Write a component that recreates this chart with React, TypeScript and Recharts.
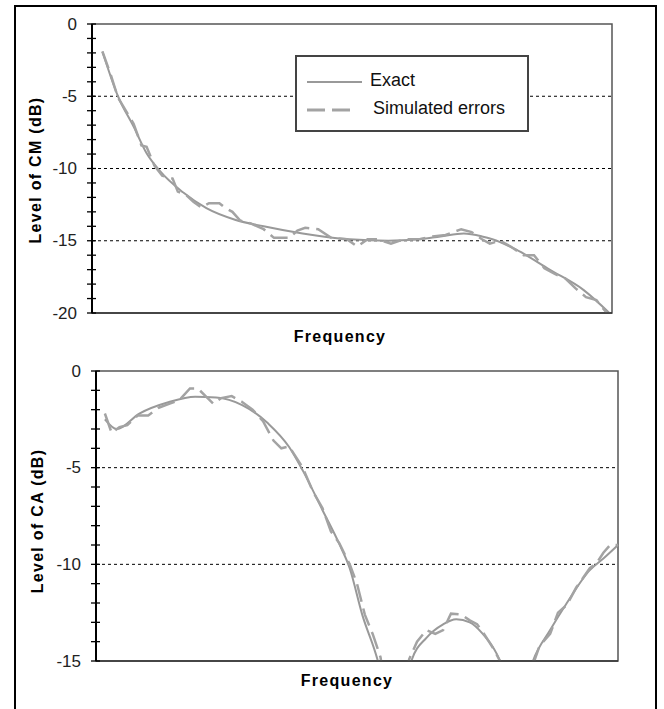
import { LineChart, Line, XAxis, YAxis, ReferenceLine, ReferenceArea, Legend } from 'recharts';

const FONT = '"Liberation Sans", Arial, sans-serif';

// top panel: level of CM (dB) vs frequency
const cmExactFreq = [2, 5, 8, 10.5, 13, 17.5, 22, 27.5, 33, 40.5, 49.5, 57, 62.5, 67, 71.5, 75, 77, 81.5, 88, 94.5, 99.5];
const cmExactLevel = [-1.9, -5.0, -7.1, -8.95, -10.15, -11.65, -12.75, -13.55, -14.0, -14.5, -14.9, -15.0, -14.9, -14.7, -14.5, -14.7, -14.9, -15.6, -17.0, -18.4, -20.0];
const cmSimFreq = [2, 3.5, 5, 6.5, 8, 9.5, 10.5, 12, 13.5, 15.5, 16.5, 18, 19.5, 21, 22.5, 24.5, 25.5, 27, 28.5, 30.5, 33, 35, 38, 39.5, 41, 43.5, 46, 49, 51, 53, 55, 57.5, 60, 63, 65.5, 68, 71, 73, 75, 76.5, 78.5, 80.5, 83, 85, 87, 89, 91, 93, 95, 97, 99];
const cmSimLevel = [-1.9, -3.4, -5.1, -6.0, -6.9, -8.4, -8.5, -9.8, -10.5, -10.7, -11.6, -11.8, -12.3, -12.7, -12.4, -12.4, -12.7, -13.0, -13.6, -13.8, -14.2, -14.8, -14.8, -14.3, -14.1, -14.2, -14.8, -14.9, -15.4, -14.9, -14.9, -15.2, -14.9, -14.9, -14.7, -14.6, -14.2, -14.4, -14.9, -15.2, -15.0, -15.4, -16.0, -16.0, -16.9, -17.3, -17.6, -18.3, -18.9, -19.1, -20.0];
const cmTicks = [0, -1, -2, -3, -4, -5, -6, -7, -8, -9, -10, -11, -12, -13, -14, -15, -16, -17, -18, -19, -20];
const cmGrid = [-5, -10, -15];

// bottom panel: level of CA (dB) vs frequency
const caExactFreq = [1.7, 4, 8.3, 14, 19, 23, 28, 33, 37, 39.6, 43.4, 46.6, 48.6, 51, 54, 57.2, 60.4, 63.3, 66.5, 69, 71.6, 74.1, 77.4, 80.6, 83.7, 87, 90.2, 94.6, 97.2, 100];
const caExactLevel = [-2.5, -3.0, -2.2, -1.6, -1.33, -1.37, -1.76, -2.72, -3.93, -5.14, -7.2, -8.94, -10.2, -12.6, -15, -19, -15, -13.8, -13.1, -12.84, -13.0, -13.6, -15, -18, -15, -13.4, -12.0, -10.3, -9.7, -9.0];
const caSimFreq = [1.7, 3, 4.5, 6, 8, 10, 12, 14, 16, 18, 19.5, 21, 22.5, 24, 26, 28, 30, 32, 34, 35.5, 37, 39.6, 41.5, 43.4, 45, 46.6, 48.6, 50, 51.5, 53, 54.5, 57, 60, 61.5, 63.3, 65, 66.5, 68, 70, 71.6, 73, 74.1, 76, 77.4, 80.6, 83.7, 85, 87, 88.5, 90.2, 92, 94.6, 96, 97.2, 98.5, 100];
const caSimLevel = [-2.2, -3.2, -2.9, -2.8, -2.3, -2.3, -1.9, -1.7, -1.5, -0.9, -0.9, -1.3, -1.7, -1.4, -1.3, -1.6, -2.0, -2.6, -3.6, -4.0, -3.9, -5.0, -6.2, -7.1, -8.3, -8.9, -10.0, -11.0, -12.6, -13.6, -14.8, -19, -14.9, -14.0, -13.4, -13.6, -13.4, -12.55, -12.6, -12.9, -13.1, -13.5, -14.3, -15, -18, -15.2, -14.2, -13.6, -12.5, -12.1, -11.2, -10.2, -9.9, -9.4, -9.0, -9.0];
const caTicks = [0, -1, -2, -3, -4, -5, -6, -7, -8, -9, -10, -11, -12, -13, -14, -15];
const caGrid = [-5, -10];

const toRows = (f: number[], v: number[]) => f.map((x, i) => ({ f: x, v: v[i] }));

const EXACT = { name: 'Exact', color: '#999', width: 2, dash: undefined as string | undefined };
const SIM = { name: 'Simulated errors', color: '#a3a3a3', width: 3, dash: '18 7' };

const YTick = (props: any) => {
  const { x, y, payload } = props;
  const major = payload.value % 5 === 0;
  return (
    <g>
      <line x1={x - 5} x2={x + 4} y1={y} y2={y} stroke="#000" strokeWidth={1.3} />
      {major && (
        <text x={x - 15} y={y} textAnchor="end" dominantBaseline="central" fontFamily={FONT} fontSize={17} fill="#222">
          {payload.value}
        </text>
      )}
    </g>
  );
};

const title = (text: string, x: number, y: number, rotate: boolean) => () => (
  <text
    x={x}
    y={y}
    transform={rotate ? `rotate(-90 ${x} ${y})` : undefined}
    textAnchor="middle"
    dominantBaseline="central"
    fontFamily={FONT}
    fontSize={16}
    fontWeight="bold"
    letterSpacing={1.3}
    fill="#000"
  >
    {text}
  </text>
);

const legendBox = () => (
  <div style={{ width: 234, height: 77, boxSizing: 'border-box', border: '2px solid #444', background: '#fff' }}>
    <svg width={230} height={73}>
      {[EXACT, SIM].map((s, i) => (
        <g key={s.name}>
          <line x1={10} x2={i === 0 ? 65 : 57} y1={25 + i * 28} y2={25 + i * 28} stroke={s.color} strokeWidth={s.width} strokeDasharray={s.dash} />
          <text x={i === 0 ? 73 : 76} y={23 + i * 28} dominantBaseline="central" fontFamily={FONT} fontSize={18} fill="#111">
            {s.name}
          </text>
        </g>
      ))}
    </svg>
  </div>
);

export default function App() {
  return (
    <div style={{ position: 'absolute', left: 0, top: 0, width: 664, height: 709, overflow: 'hidden', background: '#fff' }}>
      <div style={{ position: 'absolute', left: 14, top: 5, width: 643, height: 720, border: '2px solid #000', boxSizing: 'border-box' }} />

      <div style={{ position: 'absolute', left: 0, top: 0 }}>
        <LineChart width={664} height={360} margin={{ top: 24, right: 52, bottom: 0, left: 0 }}>
          <XAxis
            type="number"
            dataKey="f"
            domain={[0, 100]}
            tick={false}
            tickLine={false}
            axisLine={{ stroke: '#333', strokeWidth: 1.5 }}
            height={47}
            label={title('Frequency', 340, 336, false)}
          />
          <YAxis
            type="number"
            domain={[-20, 0]}
            ticks={cmTicks}
            interval={0}
            allowDataOverflow
            width={92}
            tickSize={0}
            tickMargin={0}
            tickLine={false}
            tick={YTick}
            axisLine={{ stroke: '#000', strokeWidth: 2 }}
            label={title('Level of CM (dB)', 35, 170, true)}
          />
          <ReferenceArea x1={0} x2={100} y1={-20} y2={0} fill="none" stroke="#555" strokeWidth={1.5} />
          {cmGrid.map((g) => (
            <ReferenceLine key={g} y={g} stroke="#000" strokeDasharray="3 3" strokeWidth={1} />
          ))}
          <Line data={toRows(cmExactFreq, cmExactLevel)} dataKey="v" name={EXACT.name} type="monotone" stroke={EXACT.color} strokeWidth={EXACT.width} dot={false} isAnimationActive={false} />
          <Line data={toRows(cmSimFreq, cmSimLevel)} dataKey="v" name={SIM.name} type="linear" stroke={SIM.color} strokeWidth={2.5} strokeDasharray={SIM.dash} dot={false} isAnimationActive={false} />
          <Legend
            layout="horizontal"
            verticalAlign="middle"
            align="center"
            content={legendBox}
            wrapperStyle={{ position: 'absolute', left: 295, top: 55, width: 234, height: 77 }}
          />
        </LineChart>
      </div>

      <div style={{ position: 'absolute', left: 0, top: 350 }}>
        <LineChart width={664} height={359} margin={{ top: 21, right: 46, bottom: 0, left: 0 }}>
          <XAxis
            type="number"
            dataKey="f"
            domain={[0, 100]}
            tick={false}
            tickLine={false}
            axisLine={{ stroke: '#333', strokeWidth: 1.5 }}
            height={48}
            label={title('Frequency', 347, 330, false)}
          />
          <YAxis
            type="number"
            domain={[-15, 0]}
            ticks={caTicks}
            interval={0}
            allowDataOverflow
            width={96}
            tickSize={0}
            tickMargin={0}
            tickLine={false}
            tick={YTick}
            axisLine={{ stroke: '#000', strokeWidth: 2 }}
            label={title('Level of CA (dB)', 37, 171, true)}
          />
          <ReferenceArea x1={0} x2={100} y1={-15} y2={0} fill="none" stroke="#555" strokeWidth={1.5} />
          {caGrid.map((g) => (
            <ReferenceLine key={g} y={g} stroke="#000" strokeDasharray="3 3" strokeWidth={1} />
          ))}
          <Line data={toRows(caExactFreq, caExactLevel)} dataKey="v" name={EXACT.name} type="monotone" stroke={EXACT.color} strokeWidth={EXACT.width} dot={false} isAnimationActive={false} />
          <Line data={toRows(caSimFreq, caSimLevel)} dataKey="v" name={SIM.name} type="linear" stroke={SIM.color} strokeWidth={2.5} strokeDasharray={SIM.dash} dot={false} isAnimationActive={false} />
        </LineChart>
      </div>
    </div>
  );
}
